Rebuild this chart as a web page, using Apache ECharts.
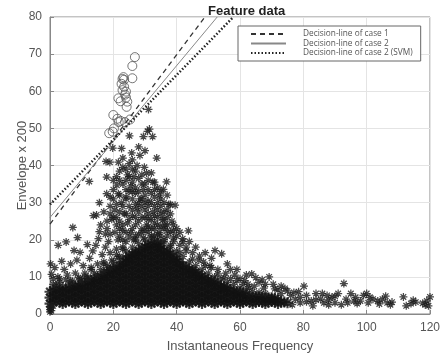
<!DOCTYPE html>
<html><head><meta charset="utf-8">
<script src="https://cdn.jsdelivr.net/npm/echarts@6/dist/echarts.min.js"></script>
<style>html,body{margin:0;padding:0;background:#fff}#c{width:442px;height:362px}</style>
</head><body><div id="c"></div>
<script>
const xTicks = [0, 20, 40, 60, 80, 100, 120];
const yTicks = [0, 10, 20, 30, 40, 50, 60, 70, 80];
const legendNames = ['Decision-line of case 1', 'Decision-line of case 2', 'Decision-line of case 2 (SVM)'];
// decision lines: endpoints [x, y]
const lineCase1 = [[0, 24.2], [48.9, 80]];
const lineCase2 = [[0, 26.0], [52.8, 80]];
const lineSVM = [[0, 29.5], [57.9, 80]];
// class 2 (circles)
const circlePts = [[26.8,69.2],[26.0,66.8],[26.0,63.5],[23.2,63.8],[22.9,63.3],[23.4,63.1],[22.6,62.0],[23.4,61.2],[22.9,60.3],[24.0,59.9],[23.7,59.1],[21.6,58.1],[22.3,57.3],[24.0,58.3],[24.4,57.2],[24.2,55.8],[20.0,53.6],[21.3,52.6],[22.3,52.0],[23.7,51.7],[25.3,52.4],[20.2,50.0],[18.7,48.7],[19.8,49.1],[21.7,51.7]];
// class 1 dense core: [x, [y values]]
const coreColumns = [
 [0,[2.8,4.4,6.0]],[2,[3.6,5.2,6.8]],[4,[2.8,4.4,6.0,7.2]],[6,[3.6,5.2,6.8]],[8,[2.8,4.4,6.0,7.6]],
 [10,[3.6,5.2,6.8,8.0]],[12,[2.8,4.4,6.0,7.6,8.6]],[14,[3.6,5.2,6.8,8.4,9.4]],[16,[2.8,4.4,6.0,7.6,9.2,10.0]],
 [18,[3.6,5.2,6.8,8.4,10.0,11.2]],[20,[2.8,4.4,6.0,7.6,9.2,10.8,12.0]],[22,[3.6,5.2,6.8,8.4,10.0,11.6,13.0]],
 [24,[2.8,4.4,6.0,7.6,9.2,10.8,12.4,14.0,15.0]],[26,[3.6,5.2,6.8,8.4,10.0,11.6,13.2,14.8,16.0]],
 [28,[2.8,4.4,6.0,7.6,9.2,10.8,12.4,14.0,15.6,17.0]],[30,[3.6,5.2,6.8,8.4,10.0,11.6,13.2,14.8,16.4,18.0]],
 [32,[2.8,4.4,6.0,7.6,9.2,10.8,12.4,14.0,15.6,17.2,18.8]],[34,[3.6,5.2,6.8,8.4,10.0,11.6,13.2,14.8,16.4,18.0,19.0]],
 [36,[2.8,4.4,6.0,7.6,9.2,10.8,12.4,14.0,15.6,17.0]],[38,[3.6,5.2,6.8,8.4,10.0,11.6,13.2,14.8,16.2]],
 [40,[2.8,4.4,6.0,7.6,9.2,10.8,12.4,14.0,14.8]],[42,[3.6,5.2,6.8,8.4,10.0,11.6,13.0]],
 [44,[2.8,4.4,6.0,7.6,9.2,10.8,12.0]],[46,[3.6,5.2,6.8,8.4,10.0,11.2]],[48,[2.8,4.4,6.0,7.6,9.2,10.2]],
 [50,[3.6,5.2,6.8,8.4,9.2]],[52,[2.8,4.4,6.0,7.6,8.6]],[54,[3.6,5.2,6.8,7.6]],[56,[2.8,4.4,6.0,7.0]],
 [58,[3.6,5.2,6.2]],[60,[2.8,4.4,5.8]],[62,[3.6,5.0]],[64,[2.8,4.4]],[66,[3.4,4.6]],[68,[2.8,4.2]],
 [70,[3.4,4.4]],[72,[2.8,3.8]],[74,[3.2]],
 [1,[3.2,4.8,6.4]],[3,[3.2,4.8,6.4]],[5,[3.2,4.8,6.4]],[7,[3.2,4.8,6.4,7.4]],[9,[3.2,4.8,6.4,7.6]],
 [11,[3.2,4.8,6.4,8.0]],[13,[3.2,4.8,6.4,8.0,9.0]],[15,[3.2,4.8,6.4,8.0,9.6]],[17,[3.2,4.8,6.4,8.0,9.6,10.6]],
 [19,[3.2,4.8,6.4,8.0,9.6,11.2,11.8]],[21,[3.2,4.8,6.4,8.0,9.6,11.2,12.6]],[23,[3.2,4.8,6.4,8.0,9.6,11.2,12.8,14.0]],
 [25,[3.2,4.8,6.4,8.0,9.6,11.2,12.8,14.4,15.6]],[27,[3.2,4.8,6.4,8.0,9.6,11.2,12.8,14.4,16.0,16.6]],
 [29,[3.2,4.8,6.4,8.0,9.6,11.2,12.8,14.4,16.0,17.6]],[31,[3.2,4.8,6.4,8.0,9.6,11.2,12.8,14.4,16.0,17.6,18.6]],
 [33,[3.2,4.8,6.4,8.0,9.6,11.2,12.8,14.4,16.0,17.6,19.2]],[35,[3.2,4.8,6.4,8.0,9.6,11.2,12.8,14.4,16.0,17.6,18.4]],
 [37,[3.2,4.8,6.4,8.0,9.6,11.2,12.8,14.4,16.0,16.8]],[39,[3.2,4.8,6.4,8.0,9.6,11.2,12.8,14.4,15.6]],
 [41,[3.2,4.8,6.4,8.0,9.6,11.2,12.8,14.0]],[43,[3.2,4.8,6.4,8.0,9.6,11.2,12.6]],[45,[3.2,4.8,6.4,8.0,9.6,11.2,11.8]],
 [47,[3.2,4.8,6.4,8.0,9.6,10.8]],[49,[3.2,4.8,6.4,8.0,9.6]],[51,[3.2,4.8,6.4,8.0,9.0]],[53,[3.2,4.8,6.4,8.0]],
 [55,[3.2,4.8,6.4,7.4]],[57,[3.2,4.8,6.4]],[59,[3.2,4.8,6.0]],[61,[3.2,4.8,5.6]],[63,[3.2,4.8]],[65,[3.2,4.6]],
 [67,[3.2,4.6]],[69,[3.2,4.4]],[71,[3.2,4.2]],[73,[3.2]],[75,[3.0]]
];
// class 1 scattered points
const spreadPts = [
 [31.1,55.1],[31.4,49.8],[30.8,49.2],[25.1,48],[29.5,47.8],[32.4,47.8],[19.8,44.7],[22.6,44.6],[25.8,43.4],[28.4,42.7],[33.7,42.0],
 [17.7,41.1],[18.9,40.9],[21.6,40.9],[27.5,40.0],[29.8,39.5],[30.5,38.0],[24.5,37.5],[26.5,37.0],[28.0,36.5],[31.0,36.0],[32.5,35.5],
 [17.9,36.9],[20,36],[12.4,35.7],[23.0,35.0],[25.5,34.5],[27.0,34.0],[29.5,33.5],[33.0,33.5],[35.8,33.6],[36.8,35.6],[34.5,32.0],
 [21.1,34.7],[21.6,32.4],[17.9,32.4],[24.0,31.5],[26.0,31.0],[28.5,31.0],[31.0,30.5],[22.5,30.0],[15.6,30.0],[39.5,29.3],[37.5,29.5],
 [35.0,29.0],[25.0,29.0],[27.5,28.5],[30.0,28.0],[32.5,27.5],[20.5,28.0],[14.7,26.7],[13.7,26.5],[23.5,27.0],[26.0,26.5],[29.0,26.0],
 [34.0,26.0],[36.3,24],[35.5,25.3],[38.5,25],[19.5,25.5],[22.0,25.0],[24.5,24.5],[27.0,24.0],[30.5,24.0],[33.0,24.5],[38.9,22.4],
 [43.7,22.4],[41.9,20.3],[40.0,21.0],[15.6,22.2],[15.3,20.3],[17.5,21.5],[20.5,22.0],[23.0,22.5],[25.5,22.0],[28.0,21.5],[31.0,22.0],
 [34.5,22.0],[37.0,21.0],[18.5,19.5],[21.5,20.0],[24.0,19.5],[26.5,20.0],[29.5,20.5],[36.0,20.0],[32.0,20.5],[38.0,18.5],
 [22,38.5],[24,36],[25,33],[27,32.5],[28,30],[29,35],[30,32],[31,27],[32,30],[33,29],[34,34],[34,28],[35,31],[36,27.5],[36,23],
 [37,26],[37,32],[38,27],[39,24],[39,20.5],[40,23],[41,22],[42,19.5],[26,28],[24,27],[22,27.5],[21,24],[23,24],[25,25.5],[28,25],
 [29,23],[31,25.5],[32,23],[33,21],[35,23.5],[30,30],[27,38.5],[25,40.5],[23,42],[28,45],[30,44],[32,38],[24,31],[20,31],[19,29],
 [20,26],[18,23],[19,21.5],[22,21],[26,23],[27,21],[30,22.5],[34,20],[25,20.8],[23,20],[29,29],[26,35.5],[33,31.5],[31,33.5],
 [21,37],[23,39.5],[24,33.5],[25,37],[26,39],[26,33],[27,29.5],[27,26],[28,33],[28,27.5],[29,31],[29,37.5],[30,26],[30,35],[31,29],
 [31,23.5],[32,32.5],[32,25.5],[33,26.5],[33,35.5],[34,24],[34,30],[35,27],[35,33],[36,25.5],[36,30],[37,24],[37,28],[38,22],
 [38,29.5],[22,32],[23,29],[21,29.5],[20,33.5],[19,27],[22,23],[24,22],[21,26],[18,25],[17,27.5],[16,24],[19,31.5],[26,41.5],
 [24,39],[22,36],
 [14,11],[16,12],[18,13],[20,14],[22,15.5],[24,17],[26,18],[28,19],[30,20],[32,21],[34,21.5],[36,19.5],[38,18],[40,17],[42,15.5],
 [44,14],[46,13],[48,12],[50,11],[52,10],[54,9.5],[56,8.5],[58,8],[60,7],[62,6.5],[64,6],[66,5.8],[68,5.5],[13,12.5],[17,13.5],
 [21,16],[23,17.5],[27,20],[29,22],[33,23],[35,21],[37,22.5],[39,19.5],[41,16.5],[43,17],[47,14.5],[49,13],[51,12.5],[53,10.8],
 [55,9.8],[59,9],[61,8],[63,7],[5,9.2],[7,8.8],[9,9.8],[11,10],[3,9.5],[1,9.5],[2,7.8],[6,8],[10,9],[12,9.5],
 [7.2,23.3],[8.7,20.6],[11.8,18.7],[2.6,18.5],[5.1,19.4],[7.6,17.1],[9.5,16.6],[0.2,13.5],[3.7,14.2],[0.5,10.7],[1.5,12.5],[4.5,12.0],
 [6.5,13.5],[8.5,14.5],[10.5,13.0],[12.5,15.0],[13.5,17.0],[14.5,18.5],[16.5,16.0],[17.5,18.0],[11.0,11.0],[13.0,12.0],[15.0,13.5],
 [2.5,10.0],[5.5,10.5],[8.0,11.0],[3.0,8.5],[6.5,9.0],[9.5,9.5],[12.0,10.0],[1.0,8.0],[17.0,14.0],[19.0,16.5],[21.0,17.5],[23.0,18.0],
 [19.5,14.5],[21.5,15.0],[17.0,11.5],[19.0,12.5],[15.0,10.5],
 [44,19.5],[46,18],[45,14.8],[49,16.5],[51,15],[56,13.5],[57,9.5],[59,12],[62,10.5],[65,9.8],[67,9.2],[68,8],[71,6.8],[73,7.5],
 [75,6.2],[77,5.8],[79,4.5],[81,3.3],[84,3.8],[86,5.5],[88,3.8],[90,4.8],[94,3],[96,3.5],[101,4.5],[104,2.7],[106,4.8],[108,3.2],
 [52.1,17.1],[54.2,16.2],[47.2,15.6],[45.0,16.5],[43.0,18.0],[41.0,18.5],[48.5,14.0],[50.5,13.0],[53.0,12.0],[55.5,11.0],[57.0,12.0],
 [58.4,10.5],[60.0,9.5],[61.5,9.0],[63.7,10.8],[62.5,8.0],[64.5,7.5],[66.0,8.5],[67.5,7.0],[69.2,10.0],[70.5,8.0],[72.0,6.5],[74.2,6.9],
 [73.0,5.5],[76.0,5.0],[77.5,4.0],[78.5,6.0],[76.5,2.5],[79.0,3.0],[80.2,7.5],[81.0,5.0],[82.5,3.5],[83.0,2.2],[84.0,5.5],[85.5,4.0],
 [86.5,3.0],[87.5,5.0],[88.0,2.5],[89.0,4.5],[90.0,3.0],[91.0,5.5],[92.8,8.2],[92.0,2.5],[93.5,4.0],[95.0,5.5],[96.5,4.5],[97.0,2.8],
 [98.0,3.5],[99.0,5.0],[100,5.5],[100.5,3.0],[102.0,4.0],[103.5,3.5],[105,4.0],[106.5,3.0],[107.5,2.5],[111.6,4.6],[112.5,2.2],
 [114,2.8],[114.7,3.7],[115.5,3.2],[118.5,2.5],[119.0,3.5],[117.7,2.9],[120,4.6],[119.5,2.2],
 [0,0.6],[0,1.2],[0.4,0.9],[0.3,1.6],[0,2.0],[1.0,2.2]
];

const corePts = [];
coreColumns.forEach(([x, ys]) => ys.forEach(y => corePts.push([x, y])));

const star = 'path://M5,0L5,10M0,5L10,5M1.5,1.5L8.5,8.5M1.5,8.5L8.5,1.5';
const chart = echarts.init(document.getElementById('c'));
const axisCommon = {
  nameMoveOverlap: false,
  axisLine: {show: true, lineStyle: {color: '#888', width: 1}},
  axisTick: {show: true, inside: true, length: 4, lineStyle: {color: '#888'}},
  axisLabel: {color: '#555', fontSize: 12, fontFamily: 'Liberation Sans, Arial, sans-serif'},
  splitLine: {show: true, lineStyle: {color: '#e4e4e4', width: 1}},
  nameTextStyle: {color: '#555', fontSize: 13, fontFamily: 'Liberation Sans, Arial, sans-serif'}
};
chart.setOption({
  animation: false,
  backgroundColor: '#fff',
  title: {text: 'Feature data', left: 203, top: 0,
    textStyle: {fontSize: 13, fontWeight: 'bold', color: '#222', fontFamily: 'Liberation Sans, Arial, sans-serif'}},
  grid: {left: 50, right: 12, top: 17, bottom: 48, show: true, borderColor: '#888', borderWidth: 1,
    backgroundColor: 'transparent', outerBoundsMode: 'none', containLabel: false},
  legend: {
    data: legendNames, orient: 'vertical', left: 238, top: 26, itemWidth: 35, itemHeight: 8, itemGap: 1.5,
    padding: [4, 8, 4, 12], borderColor: '#666', borderWidth: 1, backgroundColor: '#fff',
    itemStyle: {opacity: 0},
    textStyle: {fontSize: 8.3, color: '#555', padding: [0, 0, 0, 12], fontFamily: 'Open Sans, sans-serif'}
  },
  xAxis: Object.assign({type: 'value', min: xTicks[0], max: xTicks[xTicks.length - 1], interval: xTicks[1] - xTicks[0],
    name: 'Instantaneous Frequency', nameLocation: 'middle', nameGap: 26}, axisCommon),
  yAxis: Object.assign({type: 'value', min: yTicks[0], max: yTicks[yTicks.length - 1], interval: yTicks[1] - yTicks[0],
    name: 'Envelope x 200', nameLocation: 'middle', nameGap: 21}, axisCommon),
  series: [
    {type: 'scatter', data: corePts, symbol: star, symbolSize: 11, silent: true,
      itemStyle: {color: 'transparent', borderColor: '#111', borderWidth: 2.2}},
    {type: 'scatter', data: spreadPts, symbol: star, symbolSize: 8, silent: true,
      itemStyle: {color: 'transparent', borderColor: '#1a1a1a', borderWidth: 1.25}},
    {type: 'scatter', data: circlePts, symbol: 'circle', symbolSize: 9, silent: true,
      itemStyle: {color: 'transparent', borderColor: '#555', borderWidth: 1}},
    {name: legendNames[0], type: 'line', data: lineCase1, symbol: 'none', clip: true,
      itemStyle: {color: '#333'}, lineStyle: {color: '#333', width: 1.3, type: [5, 4]}},
    {name: legendNames[1], type: 'line', data: lineCase2, symbol: 'none', clip: true,
      itemStyle: {color: '#888'}, lineStyle: {color: '#888', width: 1, type: 'solid'}},
    {name: legendNames[2], type: 'line', data: lineSVM, symbol: 'none', clip: true,
      itemStyle: {color: '#222'}, lineStyle: {color: '#222', width: 2.5, type: [1.5, 2]}}
  ]
});
</script></body></html>
